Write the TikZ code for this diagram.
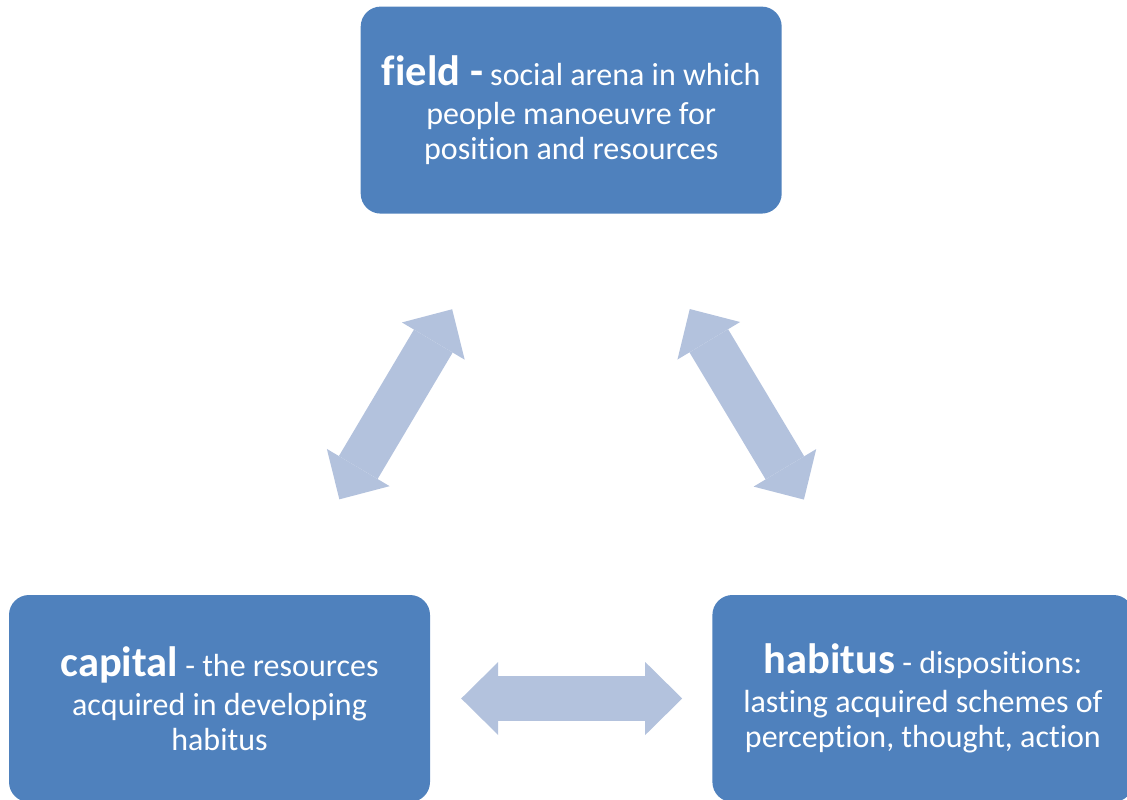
\documentclass[tikz,border=0pt]{standalone}
\usepackage{fontspec}
\setmainfont{Carlito}[Ligatures={NoCommon}]
\usetikzlibrary{positioning,arrows.meta,calc}
\definecolor{boxblue}{RGB}{79,129,189}
\definecolor{arrowblue}{RGB}{179,194,221}
\newcommand{\term}[1]{{\fontsize{42.5}{35}\selectfont\bfseries #1}}

\begin{document}
\begin{tikzpicture}[x=1pt,y=-1pt,
    concept/.style={rectangle,rounded corners=20pt,fill=boxblue,text=white,minimum width=421pt,minimum height=207pt,align=center,font=\fontsize{32}{35}\selectfont},
    twoway/.style={draw=arrowblue,line width=45pt,{Triangle[length=37pt,width=73pt,line width=0pt]}-{Triangle[length=37pt,width=73pt,line width=0pt]}}]
    \useasboundingbox (0,0) rectangle (1127,800);

    \node[concept] (capital) at (219.5,698.5) {\term{capital} - the resources\\[4pt] acquired in developing\\ habitus};
    \node[concept] (habitus) [right=282pt of capital] {\term{habitus} - dispositions:\\[4pt] lasting acquired schemes of\\ perception, thought, action};

    \coordinate (mid) at ($(capital.north)!0.5!(habitus.north)$);
    \node[concept] (field) [above=381pt of mid] {\term{field -} social arena in which\\[4pt] people manoeuvre for\\ position and resources};

    % double arrows between the three concepts
    \path[twoway,shorten <=111pt,shorten >=111pt]
        ($(capital.north west)!0.65!(capital.north east)$) -- ($(field.south west)!0.352!(field.south east)$);
    \path[twoway,shorten <=111pt,shorten >=111pt]
        ($(field.south west)!0.646!(field.south east)$) -- ($(habitus.north west)!0.353!(habitus.north east)$);
    \path[twoway,shorten <=31pt,shorten >=30pt] (capital.east) -- (habitus.west);
\end{tikzpicture}
\end{document}
